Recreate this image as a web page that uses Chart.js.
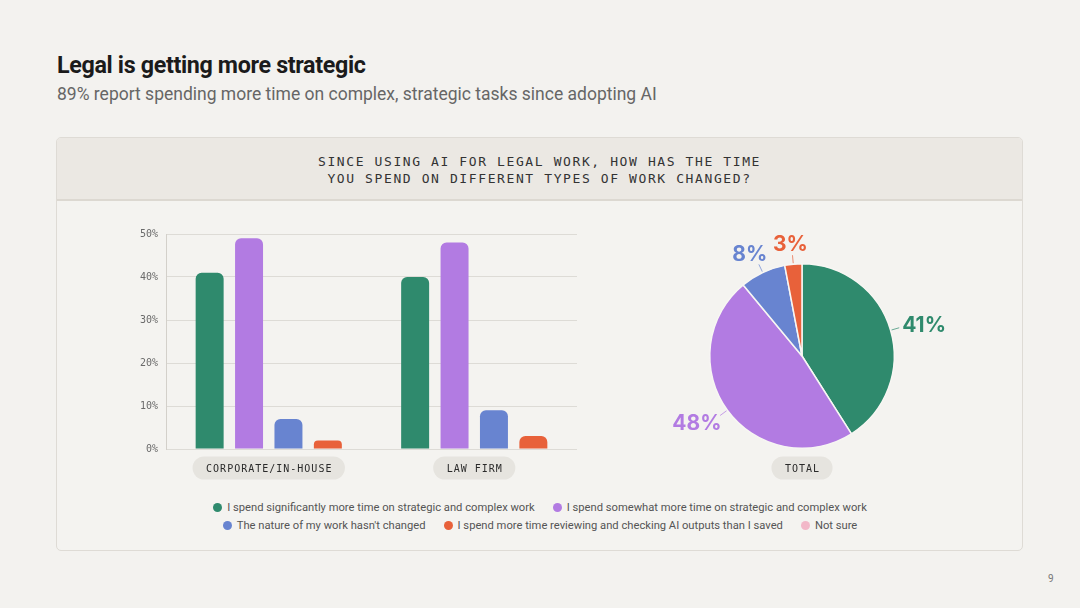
<!DOCTYPE html>
<html>
<head>
<meta charset="utf-8">
<script src="https://cdn.jsdelivr.net/npm/chart.js@4"></script>
<style>
  html, body { margin:0; padding:0; }
  body { width:1080px; height:608px; background:#f3f2ef; position:relative; overflow:hidden; font-family: Roboto, "Noto Sans", sans-serif; }
  #title { position:absolute; left:57px; top:51px; font-size:23.3px; font-weight:700; color:#1b1b1b; letter-spacing:-0.35px; }
  #subtitle { position:absolute; left:57px; top:84px; font-size:17.5px; color:#666; }
  #card { position:absolute; left:56px; top:137px; width:967px; height:414px; background:#f4f3f0; border:1px solid #dedbd5; border-radius:5px; box-sizing:border-box; overflow:hidden; }
  #cardhead { position:absolute; left:0; top:0; right:0; height:63px; background:#ebe8e3; border-bottom:2px solid #dcd8d1; box-sizing:border-box; text-align:center; font-family:"DejaVu Sans Mono", monospace; font-size:13px; letter-spacing:1.6px; color:#333; line-height:17px; padding-top:15px; }
  #bar { position:absolute; left:110px; top:220px; width:480px; height:275px; }
  #pie { position:absolute; left:642px; top:226px; width:320px; height:260px; }
  #legend { position:absolute; left:0; width:1080px; top:499px; font-size:11.2px; color:#555; text-align:center; line-height:18px; }
  #legend .row span.item { margin:0 9px; white-space:nowrap; }
  #legend .dot { display:inline-block; width:9px; height:9px; border-radius:50%; margin-right:5px; vertical-align:-1px; }
  #page { position:absolute; left:1048px; top:573px; font-size:10px; color:#777; }
</style>
</head>
<body>
<div id="title">Legal is getting more strategic</div>
<div id="subtitle">89% report spending more time on complex, strategic tasks since adopting AI</div>
<div id="card"><div id="cardhead">SINCE USING AI FOR LEGAL WORK, HOW HAS THE TIME<br>YOU SPEND ON DIFFERENT TYPES OF WORK CHANGED?</div></div>
<canvas id="bar" width="480" height="275"></canvas>
<canvas id="pie" width="320" height="260"></canvas>
<div id="legend"></div>
<div id="page">9</div>
<script>
// ---- data ----
const categories = ["CORPORATE/IN-HOUSE", "LAW FIRM"];
const seriesNames = [
  "I spend significantly more time on strategic and complex work",
  "I spend somewhat more time on strategic and complex work",
  "The nature of my work hasn't changed",
  "I spend more time reviewing and checking AI outputs than I saved",
  "Not sure"
];
const seriesColors = ["#2f8a6d", "#b27be2", "#6884d0", "#e8613a", "#f2b8c8"];
const significantlyMore = [41, 40];
const somewhatMore = [49, 48];
const notChanged = [7, 9];
const moreReviewing = [2, 3];
const totalLabel = "TOTAL";
const totalValues = [41, 48, 8, 3];
const yTicks = [0, 10, 20, 30, 40, 50];

// ---- legend ----
const legend = document.getElementById('legend');
const rows = [[0,1],[2,3,4]];
rows.forEach(r => {
  const d = document.createElement('div'); d.className = 'row';
  r.forEach(i => {
    const s = document.createElement('span'); s.className = 'item';
    s.innerHTML = '<span class="dot" style="background:' + seriesColors[i] + '"></span>' + seriesNames[i].replace(/'/g, '&#39;');
    d.appendChild(s);
  });
  legend.appendChild(d);
});

const MONO = '"DejaVu Sans Mono", monospace';

function drawPill(ctx, cx, cy, text) {
  ctx.save();
  ctx.font = '10px ' + MONO;
  ctx.letterSpacing = '1px';
  const w = ctx.measureText(text).width + 26;
  const h = 23;
  ctx.fillStyle = '#e6e4df';
  ctx.beginPath();
  ctx.roundRect(cx - w/2, cy - h/2, w, h, h/2);
  ctx.fill();
  ctx.fillStyle = '#2a2a2a';
  ctx.textAlign = 'center';
  ctx.textBaseline = 'middle';
  ctx.fillText(text, cx + 0.5, cy + 1);
  ctx.restore();
}

const pillPlugin = {
  id: 'pills',
  afterDraw(chart) {
    const xs = chart.scales.x;
    const ctx = chart.ctx;
    categories.forEach((c, i) => {
      drawPill(ctx, xs.getPixelForTick(i), chart.chartArea.bottom + 19, c);
    });
  }
};

new Chart(document.getElementById('bar'), {
  type: 'bar',
  data: {
    labels: categories,
    datasets: [significantlyMore, somewhatMore, notChanged, moreReviewing].map((d, i) => ({
      label: seriesNames[i],
      data: d,
      backgroundColor: seriesColors[i],
      borderRadius: {topLeft: 6, topRight: 6, bottomLeft: 0, bottomRight: 0},
      borderSkipped: 'bottom',
      categoryPercentage: 0.767,
      barPercentage: 0.71
    }))
  },
  options: {
    responsive: false,
    animation: false,
    devicePixelRatio: 1,
    layout: { padding: { top: 10, right: 13, bottom: 46, left: 0 } },
    plugins: { legend: { display: false }, tooltip: { enabled: false } },
    scales: {
      x: { display: false, grid: { display: false } },
      y: {
        min: 0, max: 50,
        afterBuildTicks: s => { s.ticks = yTicks.map(v => ({ value: v })); },
        afterFit: s => { s.width = 56; },
        border: { display: true, color: '#d3d0ca' },
        grid: { color: '#dddbd6', lineWidth: 1, drawTicks: false },
        ticks: { padding: 8, color: '#6a6a6a', font: { family: MONO, size: 10 }, callback: v => v + '%' }
      }
    }
  },
  plugins: [pillPlugin]
});

const pieLabelPlugin = {
  id: 'pieLabels',
  afterDraw(chart) {
    const ctx = chart.ctx;
    const meta = chart.getDatasetMeta(0);
    meta.data.forEach((arc, i) => {
      const p = arc.getProps(['x','y','startAngle','endAngle','outerRadius'], true);
      const a = (p.startAngle + p.endAngle) / 2;
      const dx = Math.cos(a), dy = Math.sin(a);
      const r = p.outerRadius;
      ctx.save();
      ctx.strokeStyle = seriesColors[i];
      ctx.globalAlpha = 0.7;
      ctx.lineWidth = 1;
      ctx.beginPath();
      ctx.moveTo(p.x + dx*(r+1), p.y + dy*(r+1));
      ctx.lineTo(p.x + dx*(r+9), p.y + dy*(r+9));
      ctx.stroke();
      ctx.globalAlpha = 1;
      ctx.font = '700 21px Inter, Roboto, sans-serif';
      const text = totalValues[i] + '%';
      const w = ctx.measureText(text).width, h = 16;
      const ax = p.x + dx*(r+13), ay = p.y + dy*(r+13);
      const cx = ax + dx*w/2, cy = ay + dy*h/2;
      ctx.fillStyle = seriesColors[i];
      ctx.textAlign = 'center';
      ctx.textBaseline = 'middle';
      ctx.fillText(text, cx, cy + 1);
      ctx.restore();
    });
    drawPill(ctx, chart.chartArea.left + chart.chartArea.width/2, 468 - 226, totalLabel);
  }
};

new Chart(document.getElementById('pie'), {
  type: 'pie',
  data: {
    labels: seriesNames.slice(0, 4),
    datasets: [{
      data: totalValues,
      backgroundColor: seriesColors.slice(0, 4),
      borderColor: '#f7f6f3',
      borderWidth: 1.5
    }]
  },
  options: {
    responsive: false,
    animation: false,
    devicePixelRatio: 1,
    layout: { padding: { top: 37, bottom: 37, left: 0, right: 0 } },
    plugins: { legend: { display: false }, tooltip: { enabled: false } }
  },
  plugins: [pieLabelPlugin]
});
</script>
</body>
</html>
